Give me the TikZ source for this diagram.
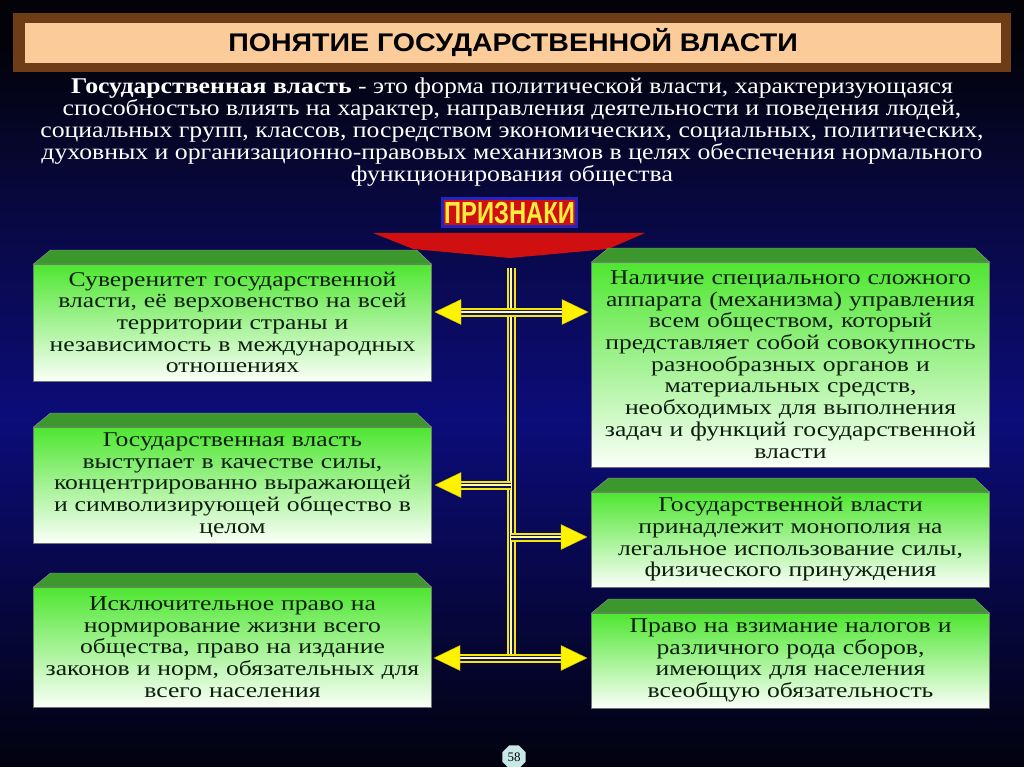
\documentclass[tikz,border=0pt]{standalone}
\usepackage{fontspec}
\setmainfont{Liberation Serif}[FakeStretch=1.22]
\newfontfamily\deffont{Liberation Serif}[FakeStretch=1.145]
\newfontfamily\sansf{Liberation Sans}[FakeStretch=1.12]
\newfontfamily\priznf{Liberation Sans}[FakeStretch=0.78]
\newfontfamily\pgfont{Liberation Serif}
\usetikzlibrary{calc,shapes.geometric}
\definecolor{bgtop}{RGB}{2,2,8}
\definecolor{bgup}{RGB}{8,8,62}
\definecolor{bgmid}{RGB}{12,12,122}
\definecolor{bgbot}{RGB}{2,2,14}
\definecolor{titlebrown}{RGB}{110,60,22}
\definecolor{peach}{RGB}{251,203,154}
\definecolor{gtop}{RGB}{78,230,48}
\definecolor{gmid}{RGB}{190,246,178}
\definecolor{gbot}{RGB}{250,255,248}
\definecolor{bevelc}{RGB}{60,152,44}
\definecolor{boxtext}{RGB}{14,30,14}
\definecolor{railY}{RGB}{246,232,0}
\definecolor{railD}{RGB}{18,18,110}
\definecolor{railL}{RGB}{255,255,150}
\definecolor{headc}{RGB}{255,242,0}
\definecolor{bannerred}{RGB}{208,16,16}
\definecolor{priznblue}{RGB}{36,36,190}
\definecolor{priznyellow}{RGB}{255,238,60}
\definecolor{pagecol}{RGB}{200,232,232}
\tikzset{
  gbox/.style={rectangle, inner sep=0pt, outer sep=0pt, draw=black!55, line width=0.6pt,
    top color=gtop, middle color=gmid, bottom color=gbot, text=boxtext, align=center,
    text width=398pt, font=\fontsize{21}{21.7}\selectfont},
  bevel/.style={fill=bevelc, draw=black!40, line width=0.4pt},
  rail1/.style={line width=9pt, draw=railY},
  rail2/.style={line width=5pt, draw=railD},
  rail3/.style={line width=1.8pt, draw=railL},
  headfill/.style={fill=headc, draw=railY!80!black, line width=0.4pt}
}
\newcommand\railline[2]{\draw[rail1] #1 -- #2; \draw[rail2] #1 -- #2; \draw[rail3] #1 -- #2;}
\newcommand\headR[1]{\fill[headfill] (#1) -- ++(-26,-12.5) -- ++(0,25) -- cycle;}
\newcommand\headL[1]{\fill[headfill] (#1) -- ++(26,-12.5) -- ++(0,25) -- cycle;}
\newcommand\bevelon[1]{\fill[bevel] (#1.north west) -- ++(17,-14) -- ($(#1.north east)+(-15,-14)$) -- (#1.north east) -- cycle;}
\begin{document}
\begin{tikzpicture}[x=1pt,y=-1pt]
\useasboundingbox (0,0) rectangle (1024,767);
\fill[bgtop] (0,0) rectangle (1024,767);
\shade[top color=bgtop, bottom color=bgup] (0,40) rectangle (1024,200);
\shade[top color=bgup, bottom color=bgmid] (0,199.5) rectangle (1024,420);
\shade[top color=bgmid, bottom color=bgbot] (0,419.5) rectangle (1024,767);
% title
\fill[titlebrown] (13,13) rectangle (1011,72);
\node[rectangle, fill=peach, minimum width=976pt, minimum height=40pt, inner sep=0pt, font=\sansf\bfseries\fontsize{25.5}{25.5}\selectfont, text=black] (title) at (513,43) {ПОНЯТИЕ ГОСУДАРСТВЕННОЙ ВЛАСТИ};
% definition
\node[text=white, align=center, inner sep=0pt, font=\deffont\fontsize{22.5}{22}\selectfont] (def) at (512,132)
 {\textbf{Государственная власть} - это форма политической власти, характеризующаяся\\
 способностью влиять на характер, направления деятельности и поведения людей,\\
 социальных групп, классов, посредством экономических, социальных, политических,\\
 духовных и организационно-правовых механизмов в целях обеспечения нормального\\
 функционирования общества};
% banner
\fill[bannerred] (373,233) -- (645,233) -- (608,249) -- (510,258) -- (413,249) -- cycle;
\node[rectangle, fill=bannerred, draw=priznblue, line width=3pt, minimum width=134pt, minimum height=28pt, inner sep=0pt] (prizn) at (509.5,213)
 {\priznf\bfseries\fontsize{30.5}{30.5}\selectfont\color{priznyellow}ПРИЗНАКИ};
% boxes
\node[gbox, minimum width=395pt, minimum height=117pt] (L1) at (232.5,322.5)
 {Суверенитет государственной\\власти, её верховенство на всей\\территории страны и\\независимость в международных\\отношениях};
\node[gbox, minimum width=395pt, minimum height=116pt] (L2) at (232.5,485)
 {Государственная власть\\выступает в качестве силы,\\концентрированно выражающей\\и символизирующей общество в\\целом};
\node[gbox, minimum width=395pt, minimum height=120pt] (L3) at (232.5,647)
 {Исключительное право на\\нормирование жизни всего\\общества, право на издание\\законов и норм, обязательных для\\всего населения};
\node[gbox, minimum width=393pt, minimum height=205pt] (R1) at (790.5,364.5)
 {Наличие специального сложного\\аппарата (механизма) управления\\всем обществом, который\\представляет собой совокупность\\разнообразных органов и\\материальных средств,\\необходимых для выполнения\\задач и функций государственной\\власти};
\node[gbox, minimum width=393pt, minimum height=95pt] (R2) at (790.5,539.5)
 {Государственной власти\\принадлежит монополия на\\легальное использование силы,\\физического принуждения};
\node[gbox, minimum width=393pt, minimum height=95pt] (R3) at (790.5,660.5)
 {Право на взимание налогов и\\различного рода сборов,\\имеющих для населения\\всеобщую обязательность};
\bevelon{L1}\bevelon{L2}\bevelon{L3}\bevelon{R1}\bevelon{R2}\bevelon{R3}
% connectors
\coordinate (tTop) at (511,268);
\coordinate (tBot) at (511,658);
\coordinate (a1l) at (435,312); \coordinate (a1r) at (588,312);
\coordinate (a2s) at (511,485); \coordinate (a2l) at (435,485);
\coordinate (a3s) at (511,537); \coordinate (a3r) at (587,537);
\coordinate (a4l) at (434,658); \coordinate (a4r) at (587,658);
\railline{(tTop)}{(tBot)}
\railline{($(a1l)+(14,0)$)}{($(a1r)+(-14,0)$)}
\railline{(a2s)}{($(a2l)+(14,0)$)}
\railline{(a3s)}{($(a3r)+(-14,0)$)}
\railline{($(a4l)+(14,0)$)}{($(a4r)+(-14,0)$)}
\headL{a1l}\headR{a1r}\headL{a2l}\headR{a3r}\headL{a4l}\headR{a4r}
% page number
\node[regular polygon, regular polygon sides=8, fill=pagecol, minimum size=25pt, inner sep=0pt, font=\pgfont\fontsize{13}{13}\selectfont] (pg) at (514,757) {58};
\end{tikzpicture}
\end{document}
